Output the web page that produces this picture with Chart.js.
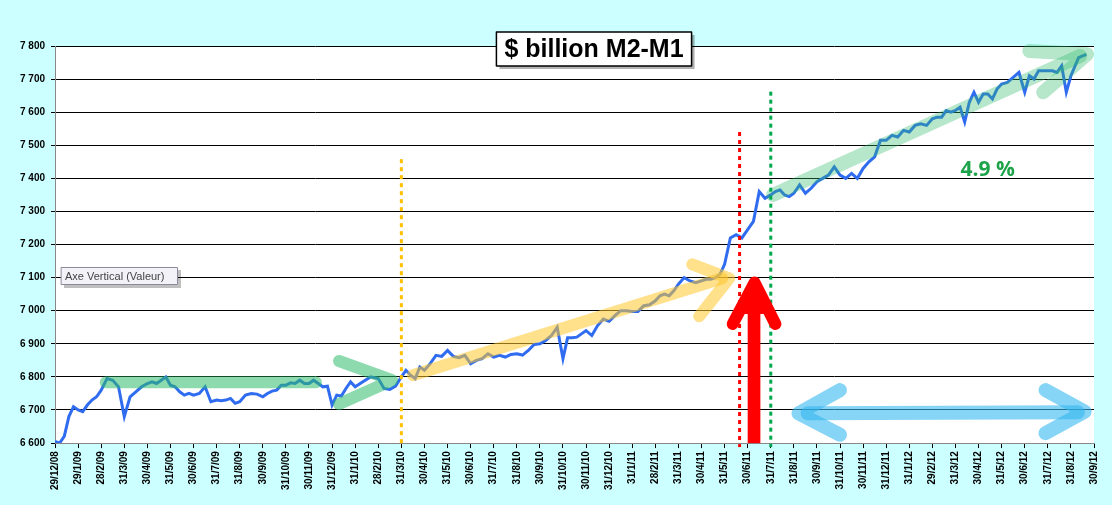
<!DOCTYPE html>
<html>
<head>
<meta charset="utf-8">
<script src="https://cdn.jsdelivr.net/npm/chart.js@4"></script>
<style>
  html, body { margin: 0; padding: 0; background: #ccffff; }
  #wrap { width: 1112px; height: 505px; }
</style>
</head>
<body>
<div id="wrap"><canvas id="c"></canvas></div>
<script>
// month-end tick labels
const tickLabels = ['29/12/08','29/1/09','28/2/09','31/3/09','30/4/09','31/5/09','30/6/09','31/7/09','31/8/09','30/9/09',
  '31/10/09','30/11/09','31/12/09','31/1/10','28/2/10','31/3/10','30/4/10','31/5/10','30/6/10','31/7/10','31/8/10','30/9/10',
  '31/10/10','30/11/10','31/12/10','31/1/11','28/2/11','31/3/11','30/4/11','31/5/11','30/6/11','31/7/11','31/8/11','30/9/11',
  '31/10/11','30/11/11','31/12/11','31/1/12','29/2/12','31/3/12','30/4/12','31/5/12','30/6/12','31/7/12','31/8/12','30/9/12'];

// weekly values ($ billion), grouped by month starting at each tick
const values2009 = [
  [6605, 6600, 6620, 6680, 6710],
  [6700, 6695, 6715, 6730, 6740],
  [6760, 6795, 6790, 6770],
  [6680, 6740, 6755, 6770],
  [6780, 6785, 6780, 6790, 6800],
  [6775, 6770, 6755, 6745, 6750],
  [6745, 6750, 6770, 6725],
  [6730, 6728, 6730, 6735, 6720],
  [6725, 6745, 6750, 6748],
  [6740, 6750, 6757, 6760, 6775],
  [6775, 6782, 6780, 6790, 6780],
  [6780, 6790, 6780, 6770, 6772]
];
const values2010 = [
  [6715, 6745, 6742, 6765, 6785],
  [6770, 6785, 6800],
  [6795, 6765, 6762, 6772],
  [6800, 6820, 6805, 6795, 6830],
  [6820, 6840, 6865, 6862],
  [6880, 6862, 6858, 6865],
  [6840, 6850, 6855, 6870],
  [6860, 6865, 6860, 6868],
  [6870, 6866, 6880, 6898],
  [6900, 6910, 6925, 6950],
  [6855, 6918, 6918, 6920, 6930],
  [6940, 6925, 6955, 6975]
];
const values2011 = [
  [6968, 6985, 7000, 7000],
  [6998, 6998, 7015, 7018],
  [7030, 7045, 7050, 7045, 7060],
  [7080, 7100, 7090, 7085],
  [7090, 7095, 7095, 7100, 7110],
  [7140, 7220, 7230, 7220],
  [7245, 7270, 7360, 7340],
  [7350, 7360, 7365, 7350, 7345],
  [7355, 7380, 7355, 7370],
  [7390, 7400, 7410, 7435],
  [7410, 7400, 7415, 7400],
  [7430, 7450, 7465, 7515]
];
const values2012 = [
  [7515, 7530, 7525, 7545],
  [7540, 7560, 7565, 7560],
  [7580, 7585, 7585, 7605, 7600],
  [7605, 7615, 7570, 7630, 7660],
  [7630, 7655, 7655, 7640, 7670],
  [7685, 7690, 7705, 7720],
  [7660, 7710, 7700, 7725, 7725],
  [7725, 7725, 7720, 7740, 7660],
  [7710, 7765, 7775]
];

const months = values2009.concat(values2010, values2011, values2012);
const points = [];
months.forEach((wk, m) => {
  wk.forEach((v, k) => points.push({ x: m + k / wk.length, y: v }));
});

const fmt = v => String(v).replace(/\B(?=(\d{3})+(?!\d))/g, ' ');

// decorations drawn on top (arrows, dotted lines, labels)
const decor = {
  id: 'decor',
  beforeDraw(chart) {
    const { ctx, chartArea: a } = chart;
    ctx.save();
    ctx.fillStyle = '#ffffff';
    ctx.fillRect(a.left, a.top, a.right - a.left, a.bottom - a.top);
    ctx.restore();
  },
  afterDatasetsDraw(chart) {
    const { ctx, chartArea: a } = chart;
    const X = chart.scales.x, Y = chart.scales.y;
    const px = v => X.getPixelForValue(v), py = v => Y.getPixelForValue(v);

    function thick(color, w, pts) {
      ctx.strokeStyle = color; ctx.lineWidth = w; ctx.lineCap = 'round'; ctx.lineJoin = 'round';
      ctx.beginPath();
      pts.forEach((p, i) => i ? ctx.lineTo(p[0], p[1]) : ctx.moveTo(p[0], p[1]));
      ctx.stroke();
    }
    function dotted(color, x, yTop) {
      ctx.strokeStyle = color; ctx.lineWidth = 3; ctx.setLineDash([4, 4]); ctx.lineCap = 'butt';
      ctx.beginPath(); ctx.moveTo(x, yTop); ctx.lineTo(x, a.bottom + 4); ctx.stroke();
      ctx.setLineDash([]);
    }
    ctx.save();
    // green flat band + chevron
    ctx.globalAlpha = 0.55;
    thick('#2dbb6a', 12, [[px(2.2), py(6784)], [px(11.3), py(6784)]]);
    thick('#2dbb6a', 12, [[px(12.3), py(6848)], [px(14.6), py(6790)], [px(12.3), py(6718)]]);
    // yellow arrow
    thick('#ffc72c', 12, [[px(15.5), py(6805)], [px(28.9), py(7098)]]);
    thick('#ffc72c', 12, [[px(27.6), py(7140)], [px(29.2), py(7098)], [px(27.9), py(6983)]]);
    // green upward arrow
    ctx.globalAlpha = 0.35;
    thick('#2dbb6a', 14, [[px(31.1), py(7350)], [px(44.4), py(7770)]]);
    thick('#2dbb6a', 14, [[px(42.2), py(7785)], [px(44.7), py(7775)], [px(42.8), py(7660)]]);
    // blue double arrow
    ctx.globalAlpha = 0.6;
    thick('#36b8f0', 14, [[px(32.6), py(6690)], [px(44.3), py(6693)]]);
    thick('#36b8f0', 14, [[px(34.0), py(6760)], [px(32.2), py(6690)], [px(34.0), py(6625)]]);
    thick('#36b8f0', 14, [[px(42.9), py(6760)], [px(44.6), py(6695)], [px(42.9), py(6630)]]);
    ctx.globalAlpha = 1;
    // dotted markers
    dotted('#ffc000', px(15), py(7458));
    dotted('#ff0000', px(29.65), py(7540));
    dotted('#00a650', px(31), py(7662));
    // red arrow
    ctx.fillStyle = '#ff0000';
    ctx.fillRect(px(30.0), py(7010), px(30.55) - px(30.0), a.bottom - py(7010));
    thick('#ff0000', 12, [[px(29.35), py(6960)], [px(30.3), py(7085)], [px(31.2), py(6960)]]);
    ctx.beginPath(); ctx.moveTo(px(30.3), py(7090)); ctx.lineTo(px(29.7), py(6990)); ctx.lineTo(px(30.9), py(6990)); ctx.fill();
    // 4.9 %
    ctx.fillStyle = '#1fa34a'; ctx.font = 'bold 21px "Open Sans", Arial, sans-serif';
    ctx.textAlign = 'center'; ctx.textBaseline = 'middle';
    ctx.fillText('4.9 %', px(40.4), py(7425));
    // title box
    ctx.font = 'bold 25px Arial, "Liberation Sans", sans-serif';
    const t = '$ billion M2-M1', tw = ctx.measureText(t).width;
    const cx = 595, cy = 49;
    ctx.fillStyle = 'rgba(0,0,0,0.3)'; ctx.fillRect(cx - tw / 2 - 6, cy - 14, tw + 16, 34);
    ctx.fillStyle = '#ffffff'; ctx.fillRect(cx - tw / 2 - 9, cy - 17, tw + 16, 34);
    ctx.strokeStyle = '#000'; ctx.lineWidth = 1.5; ctx.strokeRect(cx - tw / 2 - 9, cy - 17, tw + 16, 34);
    ctx.fillStyle = '#000'; ctx.fillText(t, cx - 1, cy + 1);
    // axis tooltip
    ctx.font = '11px Arial, sans-serif'; ctx.textAlign = 'left';
    ctx.fillStyle = 'rgba(0,0,0,0.25)'; ctx.fillRect(64, 270, 117, 18);
    ctx.fillStyle = '#f2f2f8'; ctx.fillRect(61, 267, 117, 18);
    ctx.strokeStyle = '#8a8a9a'; ctx.lineWidth = 1; ctx.strokeRect(61.5, 267.5, 116, 17);
    ctx.fillStyle = '#444'; ctx.fillText('Axe Vertical (Valeur)', 65, 277);
    ctx.restore();
  }
};

new Chart(document.getElementById('c'), {
  type: 'line',
  data: {
    datasets: [{
      data: points,
      borderColor: '#2f6cf0',
      borderWidth: 3,
      pointRadius: 0,
      tension: 0
    }]
  },
  options: {
    responsive: true,
    maintainAspectRatio: false,
    animation: false,
    layout: { padding: { top: 46, right: 18, left: 14, bottom: 12 } },
    plugins: { legend: { display: false }, tooltip: { enabled: false } },
    scales: {
      x: {
        type: 'linear', min: 0, max: 45,
        afterBuildTicks: s => { s.ticks = tickLabels.map((_, i) => ({ value: i })); },
        ticks: {
          autoSkip: false, maxRotation: 90, minRotation: 90, color: '#000',
          font: { family: 'Arial, "Liberation Sans", sans-serif', size: 10, weight: 'bold' },
          callback: v => tickLabels[v]
        },
        grid: { drawOnChartArea: false, color: '#000', tickLength: 5 },
        border: { color: '#888', width: 1 }
      },
      y: {
        min: 6600, max: 7800,
        ticks: {
          stepSize: 100, color: '#000', padding: 6,
          font: { family: 'Arial, "Liberation Sans", sans-serif', size: 10, weight: 'bold' },
          callback: v => fmt(v)
        },
        grid: { color: '#000', lineWidth: 1, tickLength: 4 },
        border: { color: '#888', width: 1 }
      }
    }
  },
  plugins: [decor]
});
</script>
</body>
</html>
